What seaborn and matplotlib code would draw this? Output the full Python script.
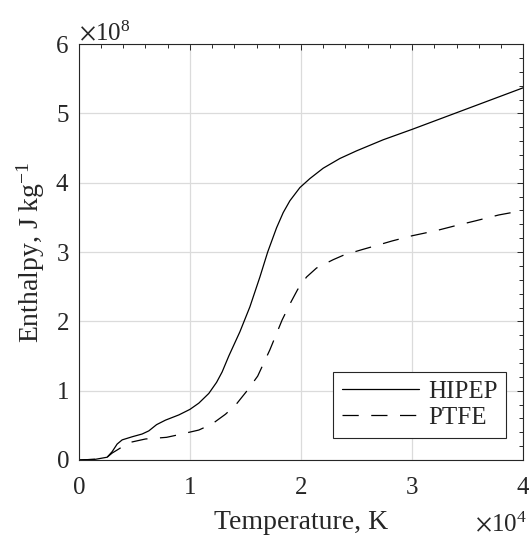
"""Enthalpy of HIPEP and PTFE plasma versus temperature."""
import matplotlib
matplotlib.use("Agg")
import pandas as pd
import matplotlib.pyplot as plt
from matplotlib.ticker import ScalarFormatter, MultipleLocator
import seaborn as sns

# temperature in units of 1e4 K, enthalpy in units of 1e8 J/kg
hipep_t = [0, 0.15, 0.255, 0.30, 0.345, 0.39, 0.48, 0.57, 0.63, 0.70, 0.78, 0.90,
           1.0, 1.08, 1.17, 1.24, 1.29, 1.35, 1.45, 1.54, 1.63, 1.70, 1.78, 1.84,
           1.90, 1.99, 2.08, 2.20, 2.35, 2.50, 2.74, 3.0, 3.25, 3.5, 3.75, 4.0]
hipep_h = [0, 0.01, 0.04, 0.12, 0.23, 0.29, 0.335, 0.375, 0.42, 0.51, 0.575, 0.65,
           0.73, 0.82, 0.96, 1.12, 1.27, 1.50, 1.85, 2.21, 2.64, 3.0, 3.35, 3.57,
           3.74, 3.93, 4.06, 4.21, 4.35, 4.46, 4.62, 4.77, 4.92, 5.07, 5.22, 5.37]

ptfe_t = [0, 0.15, 0.255, 0.30, 0.354, 0.45, 0.60, 0.79, 0.90, 1.08, 1.20, 1.32,
          1.41, 1.52, 1.61, 1.72, 1.83, 1.91, 1.97, 2.05, 2.14, 2.29, 2.39, 2.56,
          2.67, 2.82, 3.0, 3.22, 3.39, 3.57, 3.78, 4.0]
ptfe_h = [0, 0.01, 0.04, 0.10, 0.153, 0.25, 0.303, 0.327, 0.365, 0.432, 0.52, 0.66,
          0.79, 1.01, 1.21, 1.59, 2.02, 2.28, 2.46, 2.64, 2.77, 2.89, 2.96, 3.04,
          3.09, 3.16, 3.235, 3.31, 3.38, 3.45, 3.535, 3.60]

INK = "#262626"


def main():
    sns.set_theme(style="whitegrid")
    plt.rcParams.update({
        "font.family": ["Liberation Serif", "DejaVu Serif"],
        "mathtext.fontset": "stix",
        "text.color": INK,
        "axes.labelcolor": INK,
        "xtick.color": INK,
        "ytick.color": INK,
        "axes.edgecolor": INK,
    })

    df = pd.concat([
        pd.DataFrame({"temperature": [t * 1e4 for t in hipep_t],
                      "enthalpy": [h * 1e8 for h in hipep_h], "material": "HIPEP"}),
        pd.DataFrame({"temperature": [t * 1e4 for t in ptfe_t],
                      "enthalpy": [h * 1e8 for h in ptfe_h], "material": "PTFE"}),
    ], ignore_index=True)

    fig = plt.figure(figsize=(5.29, 5.38), dpi=100)
    ax = fig.add_axes([0.149, 0.145, 0.840, 0.773])
    sns.lineplot(data=df, x="temperature", y="enthalpy", style="material",
                 dashes={"HIPEP": "", "PTFE": (13, 10)}, color="black",
                 estimator=None, sort=False, linewidth=0.9, ax=ax)

    ax.set_xlim(0, 4e4)
    ax.set_ylim(0, 6e8)
    ax.xaxis.set_major_locator(MultipleLocator(1e4))
    ax.xaxis.set_minor_locator(MultipleLocator(2e3))
    ax.yaxis.set_major_locator(MultipleLocator(1e8))
    ax.yaxis.set_minor_locator(MultipleLocator(2e7))
    for axis in (ax.xaxis, ax.yaxis):
        fmt = ScalarFormatter(useMathText=True)
        fmt.set_powerlimits((-3, 3))
        axis.set_major_formatter(fmt)
    ax.yaxis.get_offset_text().set_fontsize(18)

    ax.grid(True, which="major", color="0.86", linewidth=0.9)
    ax.grid(False, which="minor")
    ax.tick_params(which="both", direction="in", top=True, right=True,
                   labelsize=18, width=0.7)
    ax.tick_params(which="major", length=4, pad=12)
    ax.tick_params(axis="y", which="major", pad=7)
    ax.tick_params(which="minor", length=3)
    for spine in ax.spines.values():
        spine.set_linewidth(0.8)
        spine.set_color(INK)

    ax.set_xlabel("Temperature, K", fontsize=20)
    ax.set_ylabel("Enthalpy, J kg$^{\\mathregular{-1}}$", fontsize=20)
    ax.xaxis.set_label_coords(0.5, -0.12)
    ax.yaxis.set_label_coords(-0.072, 0.5)

    sns.move_legend(ax, "lower right", bbox_to_anchor=(0.962, 0.053), title=None,
                    frameon=True, fancybox=False, framealpha=1, edgecolor=INK,
                    fontsize=18, handlelength=3.1, handletextpad=0.35,
                    borderaxespad=0, borderpad=0.35, labelspacing=0.15)
    ax.get_legend().get_frame().set_linewidth(0.8)

    fig.canvas.draw()
    ax.xaxis.get_offset_text().set_visible(False)
    ax.text(1.008, -0.172, ax.xaxis.get_major_formatter().get_offset(),
            transform=ax.transAxes, ha="right", va="baseline", fontsize=18)

    fig.savefig("out.png", dpi=100)


if __name__ == "__main__":
    main()
